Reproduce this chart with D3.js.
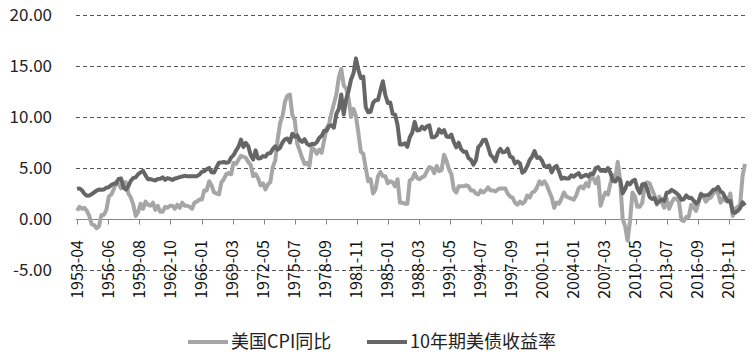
<!DOCTYPE html>
<html>
<head>
<meta charset="utf-8">
<script src="https://cdn.jsdelivr.net/npm/d3@7"></script>
<style>
  body { margin: 0; background: #fff; }
  svg { display: block; font-family: "Noto Sans CJK SC", "Noto Sans", sans-serif; }
</style>
</head>
<body>
<div id="chart"></div>
<script>
// quarterly samples (Jan/Apr/Jul/Oct), 1953-04 .. 2021-07
const startMonth = '1953-04';
const endMonth = '2021-07';

const cpiYoY = [
  0.8, 1.2, 1.0,
  1.1, 0.8, 0.3, -0.5,
  -0.6, -0.9, -0.7, 0.4,
  0.4, 0.9, 2.2, 2.4,
  2.9, 3.6, 3.4, 3.0,
  3.6, 3.6, 2.5, 2.1,
  1.4, 0.3, 0.7, 1.5,
  1.0, 1.7, 1.4, 1.3,
  1.6, 0.9, 1.3, 0.7,
  0.7, 1.2, 1.1, 1.3,
  1.3, 1.0, 1.4, 1.1,
  1.6, 1.3, 1.3, 1.2,
  1.0, 1.6, 1.7, 1.9,
  1.9, 2.8, 2.8, 3.7,
  3.3, 2.6, 2.5, 2.4,
  3.6, 3.9, 4.4, 4.5,
  4.4, 5.5, 5.4, 5.8,
  6.2, 6.1, 6.0, 5.6,
  5.3, 4.2, 4.4, 4.0,
  3.3, 3.5, 2.9, 3.4,
  3.6, 5.1, 5.7, 7.8,
  9.4, 10.1, 11.5, 12.1,
  12.2, 10.2, 9.7, 7.4,
  6.7, 6.0, 5.4, 5.5,
  5.2, 7.0, 6.8, 6.4,
  6.8, 6.5, 7.7, 8.9,
  9.3, 10.4, 11.3, 12.2,
  13.9, 14.7, 13.1, 12.8,
  11.8, 10.0, 10.8, 10.1,
  8.4, 6.6, 6.4, 5.0,
  3.7, 3.9, 2.5, 2.9,
  4.2, 4.6, 4.2, 4.2,
  3.5, 3.7, 3.6, 3.2,
  3.9, 1.6, 1.6, 1.5,
  1.5, 3.8, 3.9, 4.5,
  4.0, 3.9, 4.1, 4.2,
  4.7, 5.1, 5.0, 4.5,
  5.2, 4.7, 4.8, 6.3,
  5.7, 4.9, 4.4, 2.9,
  2.6, 3.2, 3.2, 3.2,
  3.3, 3.2, 2.8, 2.8,
  2.5, 2.4, 2.8, 2.6,
  2.8, 3.1, 2.8, 2.8,
  2.7, 2.9, 3.0, 3.0,
  3.0, 2.5, 2.2, 2.1,
  1.6, 1.4, 1.7, 1.5,
  1.7, 2.3, 2.1, 2.6,
  2.7, 3.1, 3.7, 3.4,
  3.7, 3.3, 2.7, 2.1,
  1.1, 1.6, 1.5, 2.0,
  2.6, 2.2, 2.1, 2.0,
  1.9, 2.3, 3.0, 3.2,
  3.0, 3.5, 3.2, 4.3,
  4.0, 3.5, 4.1, 1.3,
  2.1, 2.6, 2.4, 3.5,
  4.3, 3.9, 5.6, 3.7,
  0.0, -0.7, -2.1, -0.2,
  2.6, 2.2, 1.2, 1.2,
  1.6, 3.2, 3.6, 3.5,
  2.9, 2.3, 1.4, 2.2,
  1.6, 1.1, 2.0, 1.0,
  1.6, 2.0, 2.0, 1.7,
  -0.1, -0.2, 0.2, 0.2,
  1.4, 1.1, 0.8, 1.6,
  2.5, 2.2, 1.7, 2.0,
  2.1, 2.5, 2.9, 2.5,
  1.6, 2.0, 1.8, 1.8,
  2.5, 0.3, 1.0, 1.2,
  1.4, 4.2, 5.4
];

const yield10y = [
  2.95, 3.00, 2.82,
  2.48, 2.29, 2.30, 2.43,
  2.61, 2.78, 2.90, 2.87,
  2.90, 3.07, 3.11, 3.33,
  3.46, 3.48, 3.93, 3.97,
  3.09, 2.88, 3.21, 3.75,
  4.02, 4.08, 4.40, 4.57,
  4.72, 4.28, 3.90, 3.91,
  3.84, 3.78, 3.92, 3.94,
  4.08, 3.84, 4.01, 3.93,
  3.83, 3.97, 4.02, 4.11,
  4.17, 4.23, 4.20, 4.19,
  4.19, 4.20, 4.20, 4.35,
  4.61, 4.69, 4.88, 5.01,
  4.58, 4.55, 5.06, 5.51,
  5.53, 5.59, 5.50, 5.57,
  6.04, 6.26, 6.72, 7.10,
  7.79, 7.06, 7.46, 7.14,
  6.24, 5.83, 6.73, 5.93,
  5.95, 6.17, 6.11, 6.42,
  6.46, 6.85, 7.13, 6.79,
  6.99, 7.51, 7.81, 7.90,
  7.50, 8.36, 8.06, 8.19,
  7.74, 7.56, 7.83, 7.38,
  7.21, 7.37, 7.33, 7.52,
  7.96, 8.15, 8.64, 8.64,
  9.10, 9.18, 8.95, 10.30,
  10.80, 12.20, 10.25, 11.75,
  12.57, 13.68, 14.28, 15.75,
  14.59, 13.82, 13.95, 10.97,
  10.46, 10.51, 11.38, 11.65,
  11.67, 12.63, 13.50, 12.16,
  11.38, 11.43, 10.31, 10.24,
  9.19, 7.30, 7.30, 7.43,
  7.08, 8.02, 8.45, 9.52,
  8.67, 8.72, 9.06, 8.80,
  9.09, 9.18, 8.02, 8.01,
  8.21, 8.79, 8.47, 8.72,
  8.09, 8.04, 8.27, 7.53,
  7.03, 7.48, 6.84, 6.59,
  6.60, 5.97, 5.81, 5.33,
  5.75, 7.04, 7.30, 7.74,
  7.78, 7.06, 6.28, 6.04,
  5.65, 6.51, 6.87, 6.53,
  6.58, 6.89, 6.12, 6.03,
  5.43, 5.64, 5.46, 4.53,
  4.72, 5.18, 5.79, 6.11,
  6.66, 5.99, 6.05, 5.74,
  5.16, 5.14, 5.24, 4.57,
  5.04, 5.21, 4.65, 3.94,
  4.05, 3.96, 3.98, 4.29,
  4.15, 4.35, 4.50, 4.10,
  4.22, 4.34, 4.18, 4.46,
  4.42, 4.99, 5.09, 4.73,
  4.76, 4.69, 5.00, 4.53,
  3.74, 3.68, 4.01, 3.81,
  2.52, 2.93, 3.56, 3.39,
  3.73, 3.85, 3.01, 2.54,
  3.39, 3.46, 3.00, 2.15,
  1.97, 2.05, 1.53, 1.75,
  1.91, 1.76, 2.58, 2.62,
  2.86, 2.71, 2.54, 2.30,
  1.88, 1.94, 2.32, 2.07,
  2.09, 1.81, 1.50, 1.76,
  2.43, 2.30, 2.32, 2.36,
  2.58, 2.87, 2.89, 3.15,
  2.71, 2.53, 2.06, 1.71,
  1.76, 0.66, 0.62, 0.79,
  1.08, 1.64, 1.32
];

const xTickLabels = [
  '1953-04', '1956-06', '1959-08', '1962-10', '1966-01', '1969-03',
  '1972-05', '1975-07', '1978-09', '1981-11', '1985-01', '1988-03',
  '1991-05', '1994-07', '1997-09', '2000-11', '2004-01', '2007-03',
  '2010-05', '2013-07', '2016-09', '2019-11'
];

const yTicks = [-5, 0, 5, 10, 15, 20];
const seriesNames = ['美国CPI同比', '10年期美债收益率'];
const seriesColors = ['#a6a6a6', '#666666'];

const W = 755, H = 364;
const parseMonth = d3.timeParse('%Y-%m');

const dates = d3.timeMonth.every(3).range(parseMonth(startMonth), d3.timeMonth.offset(parseMonth(endMonth), 1));

const x = d3.scaleTime()
  .domain([parseMonth(startMonth), parseMonth(endMonth)])
  .range([77, 745]);

const y = d3.scaleLinear()
  .domain([-5, 20])
  .range([270, 15]);

const svg = d3.select('#chart').append('svg')
  .attr('width', W)
  .attr('height', H);

// dashed gridlines
svg.append('g')
  .selectAll('line')
  .data(yTicks.filter(v => v !== 0))
  .enter().append('line')
  .attr('x1', 76).attr('x2', 745)
  .attr('y1', d => Math.round(y(d)) + 0.5)
  .attr('y2', d => Math.round(y(d)) + 0.5)
  .attr('stroke', '#555')
  .attr('stroke-width', 1)
  .attr('stroke-dasharray', '4,3');

// y labels
svg.append('g')
  .selectAll('text')
  .data(yTicks)
  .enter().append('text')
  .attr('x', 52)
  .attr('y', d => y(d))
  .attr('dy', '0.35em')
  .attr('text-anchor', 'end')
  .style('font-size', '17px')
  .style('fill', '#222')
  .text(d => d.toFixed(2));

// zero axis with ticks
const axisY = Math.round(y(0)) + 0.5;
svg.append('line')
  .attr('x1', 76).attr('x2', 745)
  .attr('y1', axisY).attr('y2', axisY)
  .attr('stroke', '#888')
  .attr('stroke-width', 1);

svg.append('g')
  .selectAll('line')
  .data(xTickLabels)
  .enter().append('line')
  .attr('x1', d => Math.round(x(parseMonth(d))) + 0.5)
  .attr('x2', d => Math.round(x(parseMonth(d))) + 0.5)
  .attr('y1', axisY)
  .attr('y2', axisY + 5)
  .attr('stroke', '#888');

svg.append('g')
  .selectAll('text')
  .data(xTickLabels)
  .enter().append('text')
  .attr('transform', d => `translate(${x(parseMonth(d))}, 240) rotate(-90)`)
  .attr('dy', '0.35em')
  .attr('text-anchor', 'end')
  .style('font-size', '16px')
  .style('fill', '#111')
  .text(d => d);

// lines
const series = [cpiYoY, yield10y];
const line = d3.line()
  .x((d, i) => x(dates[i]))
  .y(d => y(d));

series.forEach((values, k) => {
  svg.append('path')
    .datum(values)
    .attr('fill', 'none')
    .attr('stroke', seriesColors[k])
    .attr('stroke-width', 4)
    .attr('stroke-linejoin', 'round')
    .attr('d', line);
});

// legend
const legendX = [188, 367];
const legendY = 342;
seriesNames.forEach((name, k) => {
  const g = svg.append('g').attr('transform', `translate(${legendX[k]}, ${legendY})`);
  g.append('line')
    .attr('x1', 0).attr('x2', 40)
    .attr('stroke', seriesColors[k])
    .attr('stroke-width', 4);
  g.append('text')
    .attr('x', 43)
    .attr('dy', '0.35em')
    .style('font-size', '18px')
    .style('fill', '#222')
    .text(name);
});
</script>
</body>
</html>
